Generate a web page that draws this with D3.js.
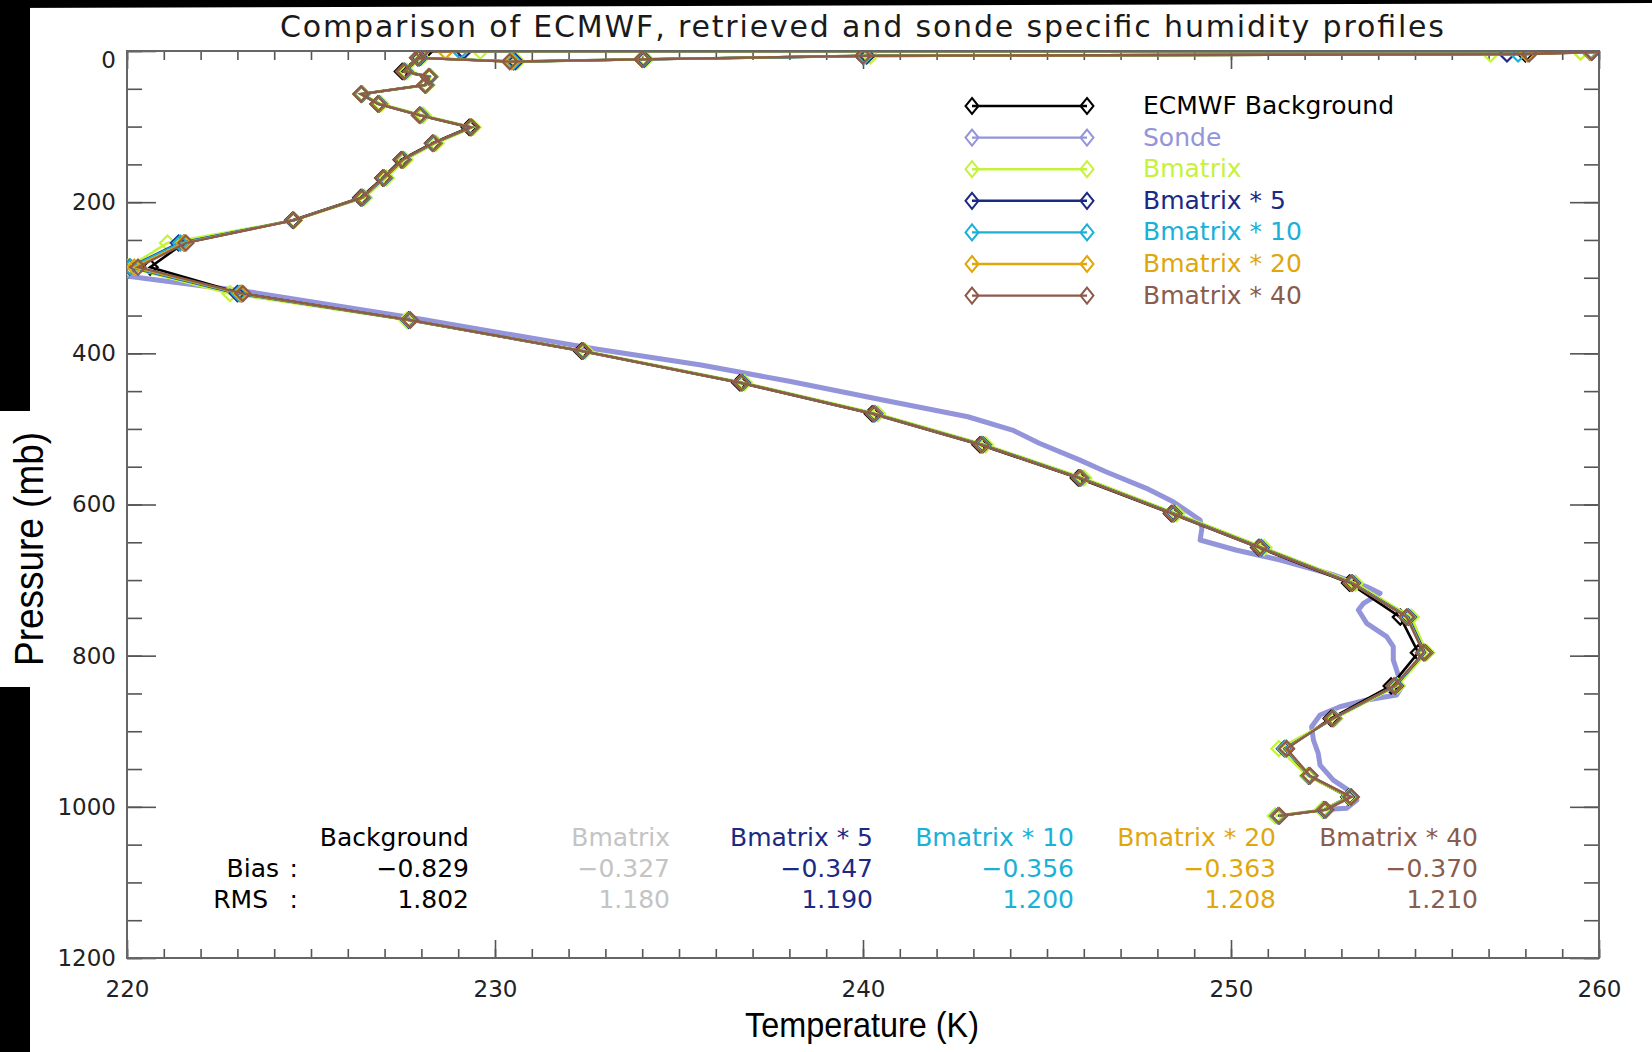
<!DOCTYPE html>
<html>
  <head>
    <meta charset="utf-8">
    <title>ECMWF / retrieved / sonde profiles</title>
    <script src="https://d3js.org/d3.v7.min.js"></script>
    <style>
      body { margin: 0; background: #fff; }
      text { font-family: "DejaVu Sans", sans-serif; }
    </style>
  </head>

  <body>
    <svg width="1652" height="1052"></svg>

    <script type="text/javascript">
      // pressure levels (mb) shared by background and retrievals, in plotting order
      var levels = [0.3, 0.2, 1.5, 4, 6.5, 11, 14, 9,
        27, 34, 45, 57, 70, 85, 101, 122, 144, 168, 194, 224, 254, 286, 321, 356,
        397, 439, 480, 521, 565, 612, 657, 704, 749, 796, 840, 883, 923, 959, 987, 1004, 1012];

      // temperatures (K) at those levels
      var background = [228.1, 272, 259.8, 258.0, 240.0, 234.0, 230.5, 227.9,
        227.48, 228.2, 228.1, 226.36, 226.82, 227.95, 229.3, 228.3, 227.45, 226.95, 226.35, 224.5, 221.55, 220.63, 223.1, 227.65,
        232.35, 236.65, 240.25, 243.18, 245.85, 248.38, 250.75, 253.22, 254.6, 255.09, 254.35, 252.72, 251.5, 252.1, 253.2, 252.5, 251.3];
      var bmatrix = [229.6, 272, 259.5, 257.05, 240.2, 234.1, 230.6, 228.0,
        227.6, 228.25, 228.15, 226.4, 226.9, 228.05, 229.4, 228.4, 227.55, 227.05, 226.45, 224.55, 221.1, 220.04, 222.8, 227.6,
        232.45, 236.78, 240.4, 243.33, 246.0, 248.52, 250.9, 253.38, 254.9, 255.32, 254.52, 252.82, 251.3, 252.08, 253.22, 252.48, 251.2];
      var bmatrix5 = [229.15, 272, 259.8, 257.5, 240.1, 234.05, 230.55, 227.95,
        227.55, 228.22, 228.12, 226.38, 226.85, 227.98, 229.36, 228.34, 227.5, 226.99, 226.4, 224.52, 221.4, 220.08, 223.0, 227.66,
        232.4, 236.72, 240.32, 243.26, 245.92, 248.45, 250.82, 253.3, 254.82, 255.27, 254.47, 252.78, 251.45, 252.12, 253.25, 252.54, 251.28];
      var bmatrix10 = [229.05, 272, 259.75, 257.8, 240.05, 234.02, 230.5, 227.92,
        227.54, 228.21, 228.11, 226.37, 226.84, 227.97, 229.35, 228.33, 227.49, 226.98, 226.39, 224.52, 221.45, 220.1, 223.05, 227.68,
        232.39, 236.7, 240.3, 243.24, 245.9, 248.43, 250.8, 253.28, 254.8, 255.25, 254.45, 252.77, 251.47, 252.13, 253.26, 252.56, 251.3];
      var bmatrix20 = [228.65, 272, 259.78, 258.05, 240.02, 234.0, 230.45, 227.9,
        227.53, 228.2, 228.1, 226.36, 226.83, 227.96, 229.34, 228.32, 227.48, 226.97, 226.38, 224.53, 221.55, 220.2, 223.1, 227.69,
        232.38, 236.69, 240.29, 243.22, 245.89, 248.41, 250.78, 253.27, 254.78, 255.24, 254.44, 252.76, 251.49, 252.14, 253.27, 252.57, 251.31];
      var bmatrix40 = [228.0, 272, 259.8, 258.1, 240.0, 234.0, 230.4, 227.9,
        227.52, 228.2, 228.1, 226.36, 226.82, 227.95, 229.34, 228.31, 227.47, 226.96, 226.37, 224.53, 221.6, 220.3, 223.15, 227.7,
        232.38, 236.68, 240.28, 243.21, 245.88, 248.4, 250.77, 253.26, 254.77, 255.23, 254.43, 252.75, 251.51, 252.15, 253.27, 252.58, 251.32];

      // radiosonde profile
      var sondeTemp = [219.4, 220.5, 223.5, 228.0, 232.7, 235.6, 238.0, 240.54, 242.85, 244.06, 244.79, 245.88, 246.6,
        247.7, 248.43, 249.16, 249.21, 249.16, 250.13, 251.34, 252.8, 253.69, 254.05, 253.6, 253.46, 253.69, 254.23,
        254.41, 254.41, 254.5, 254.64, 254.5, 253.69, 252.96, 252.42, 252.19, 252.24, 252.37, 252.42, 252.78, 253.32,
        253.42, 253.14, 252.78];
      var sondePres = [294, 301, 320, 355, 394, 415.5, 437, 461.8, 483.9, 501.5, 519, 541, 556.6,
        578.6, 596.3, 620.5, 631.5, 647, 660.2, 673.5, 693.3, 708.8, 717.5, 730.8, 739.6, 757.2, 774.9,
        788.2, 805.8, 819, 841.1, 852.1, 858.7, 867.6, 878.5, 894, 911.6, 929.2, 944.7, 964.6, 982.2,
        991, 1002, 1003];

      var legendNames = ["ECMWF Background", "Sonde", "Bmatrix", "Bmatrix * 5", "Bmatrix * 10", "Bmatrix * 20", "Bmatrix * 40"];
      var legendColors = ["#000000", "#9494da", "#c6f23c", "#1b2a84", "#1bb0d6", "#e0a70c", "#8b5b4b"];

      var statNames = ["Background", "Bmatrix", "Bmatrix * 5", "Bmatrix * 10", "Bmatrix * 20", "Bmatrix * 40"];
      var statColors = ["#000000", "#c4c4c4", "#1b2a84", "#1bb0d6", "#e0a70c", "#8b5b4b"];
      var biasValues = [-0.829, -0.327, -0.347, -0.356, -0.363, -0.370];
      var rmsValues = [1.802, 1.180, 1.190, 1.200, 1.208, 1.210];

      var xTicks = [220, 230, 240, 250, 260];
      var yTicks = [0, 200, 400, 600, 800, 1000, 1200];

      var svg = d3.select("svg");
      var plotLeft = 127, plotRight = 1599, plotTop = 51, plotBottom = 958;

      var x = d3.scaleLinear().domain([220, 260]).range([plotLeft, plotRight]);
      var y = d3.scaleLinear().domain([0, 1200]).range([plotTop, plotBottom]);

      // black border of the scanned figure
      svg.append("path").attr("d", "M0,0H1652V3L0,8Z").attr("fill", "#000");
      svg.append("rect").attr("x", 0).attr("y", 0).attr("width", 30).attr("height", 1052).attr("fill", "#000");
      svg.append("rect").attr("x", 0).attr("y", 411).attr("width", 30).attr("height", 276).attr("fill", "#fff");

      svg.append("clipPath").attr("id", "plotclip")
        .append("rect")
        .attr("x", plotLeft).attr("y", plotTop)
        .attr("width", plotRight - plotLeft).attr("height", plotBottom - plotTop);

      // axes, ticks all pointing inward (IDL style)
      var minorX = d3.range(220, 261, 1);
      var minorY = d3.range(0, 1201, 50);

      function styleAxis(g) {
        g.select(".domain").remove();
        g.selectAll("line").attr("stroke", "#555").attr("stroke-width", 1.6);
        g.selectAll("text").attr("fill", "#222").style("font-size", "23px")
          .style("font-family", "DejaVu Sans");
      }

      svg.append("g").attr("transform", "translate(0," + plotBottom + ")")
        .call(d3.axisBottom(x).tickValues(minorX).tickSize(-9).tickFormat("")).call(styleAxis);
      svg.append("g").attr("transform", "translate(0," + plotBottom + ")")
        .call(d3.axisBottom(x).tickValues(xTicks).tickSize(-18).tickPadding(23).tickFormat(d3.format("d")))
        .call(styleAxis);
      svg.append("g").attr("transform", "translate(0," + plotTop + ")")
        .call(d3.axisTop(x).tickValues(minorX).tickSize(-9).tickFormat("")).call(styleAxis);
      svg.append("g").attr("transform", "translate(0," + plotTop + ")")
        .call(d3.axisTop(x).tickValues(xTicks).tickSize(-18).tickFormat("")).call(styleAxis);

      svg.append("g").attr("transform", "translate(" + plotLeft + ",0)")
        .call(d3.axisLeft(y).tickValues(minorY).tickSize(-15).tickFormat("")).call(styleAxis);
      var yAxis = svg.append("g").attr("transform", "translate(" + plotLeft + ",0)")
        .call(d3.axisLeft(y).tickValues(yTicks).tickSize(-29).tickPadding(11).tickFormat(d3.format("d")))
        .call(styleAxis);
      // the top label sits a little lower in the original
      yAxis.selectAll("text").filter(function (d) { return d === 0; }).attr("y", 9);
      svg.append("g").attr("transform", "translate(" + plotRight + ",0)")
        .call(d3.axisRight(y).tickValues(minorY).tickSize(-15).tickFormat("")).call(styleAxis);
      svg.append("g").attr("transform", "translate(" + plotRight + ",0)")
        .call(d3.axisRight(y).tickValues(yTicks).tickSize(-29).tickFormat("")).call(styleAxis);

      svg.append("rect")
        .attr("x", plotLeft).attr("y", plotTop)
        .attr("width", plotRight - plotLeft).attr("height", plotBottom - plotTop)
        .attr("fill", "none").attr("stroke", "#666").attr("stroke-width", 2);

      // profiles
      var plot = svg.append("g").attr("clip-path", "url(#plotclip)");

      var line = d3.line()
        .x(function (d) { return x(d[0]); })
        .y(function (d) { return y(d[1]); });

      var diamond = "M0,-7.5L7.5,0L0,7.5L-7.5,0Z";

      plot.append("path")
        .datum(d3.zip(sondeTemp, sondePres))
        .attr("fill", "none")
        .attr("stroke", legendColors[1])
        .attr("stroke-width", 5)
        .attr("stroke-linejoin", "round")
        .attr("stroke-linecap", "round")
        .attr("d", line);

      var profiles = [
        { temps: background, color: legendColors[0], width: 2.6 },
        { temps: bmatrix, color: legendColors[2], width: 2.6 },
        { temps: bmatrix5, color: legendColors[3], width: 2.3 },
        { temps: bmatrix10, color: legendColors[4], width: 2.3 },
        { temps: bmatrix20, color: legendColors[5], width: 2.3 },
        { temps: bmatrix40, color: legendColors[6], width: 2.3 }
      ];

      profiles.forEach(function (p) {
        var pts = d3.zip(p.temps, levels);
        plot.append("path")
          .datum(pts)
          .attr("fill", "none")
          .attr("stroke", p.color)
          .attr("stroke-width", p.width)
          .attr("d", line);
        plot.append("g")
          .selectAll("path")
          .data(pts)
          .enter()
          .append("path")
          .attr("d", diamond)
          .attr("transform", function (d) { return "translate(" + x(d[0]) + "," + y(d[1]) + ")"; })
          .attr("fill", "none")
          .attr("stroke", p.color)
          .attr("stroke-width", 2.2);
      });

      // legend
      var legend = svg.append("g");
      legendNames.forEach(function (name, i) {
        var ly = 106 + i * 31.6;
        legend.append("line")
          .attr("x1", 972).attr("x2", 1087)
          .attr("y1", ly).attr("y2", ly)
          .attr("stroke", legendColors[i]).attr("stroke-width", 2.4);
        [972, 1087].forEach(function (lx) {
          legend.append("path")
            .attr("d", "M0,-8L6.5,0L0,8L-6.5,0Z")
            .attr("transform", "translate(" + lx + "," + ly + ")")
            .attr("fill", "none").attr("stroke", legendColors[i]).attr("stroke-width", 2);
        });
        legend.append("text")
          .attr("x", 1143).attr("y", ly + 8)
          .attr("fill", legendColors[i])
          .style("font-size", "25px")
          .text(name);
      });

      // bias / rms table
      var colRight = [469, 670, 873, 1074, 1276, 1478];
      var fmt = d3.format(".3f");
      var table = svg.append("g").style("font-size", "25px");
      statNames.forEach(function (name, i) {
        table.append("text").attr("x", colRight[i]).attr("y", 846)
          .attr("text-anchor", "end").attr("fill", statColors[i]).text(name);
        table.append("text").attr("x", colRight[i]).attr("y", 877)
          .attr("text-anchor", "end").attr("fill", statColors[i]).text(fmt(biasValues[i]));
        table.append("text").attr("x", colRight[i]).attr("y", 908)
          .attr("text-anchor", "end").attr("fill", statColors[i]).text(fmt(rmsValues[i]));
      });
      table.append("text").attr("x", 279).attr("y", 877).attr("text-anchor", "end").text("Bias");
      table.append("text").attr("x", 268).attr("y", 908).attr("text-anchor", "end").text("RMS");
      table.append("text").attr("x", 298).attr("y", 877).attr("text-anchor", "end").text(":");
      table.append("text").attr("x", 298).attr("y", 908).attr("text-anchor", "end").text(":");

      // titles
      svg.append("text")
        .attr("x", 862).attr("y", 37)
        .attr("text-anchor", "middle")
        .attr("fill", "#1a1a1a")
        .attr("textLength", 1164)
        .attr("lengthAdjust", "spacing")
        .style("font-size", "30px")
        .text("Comparison of ECMWF, retrieved and sonde specific humidity profiles");

      svg.append("text")
        .attr("x", 862).attr("y", 1037)
        .attr("text-anchor", "middle")
        .attr("textLength", 234)
        .attr("lengthAdjust", "spacingAndGlyphs")
        .style("font-family", "Liberation Sans, Arial, sans-serif")
        .style("font-size", "35px")
        .text("Temperature (K)");

      svg.append("text")
        .attr("transform", "translate(43,549) rotate(-90)")
        .attr("text-anchor", "middle")
        .attr("textLength", 234)
        .attr("lengthAdjust", "spacingAndGlyphs")
        .style("font-family", "Liberation Sans, Arial, sans-serif")
        .style("font-size", "41px")
        .text("Pressure (mb)");
    </script>
  </body>
</html>
